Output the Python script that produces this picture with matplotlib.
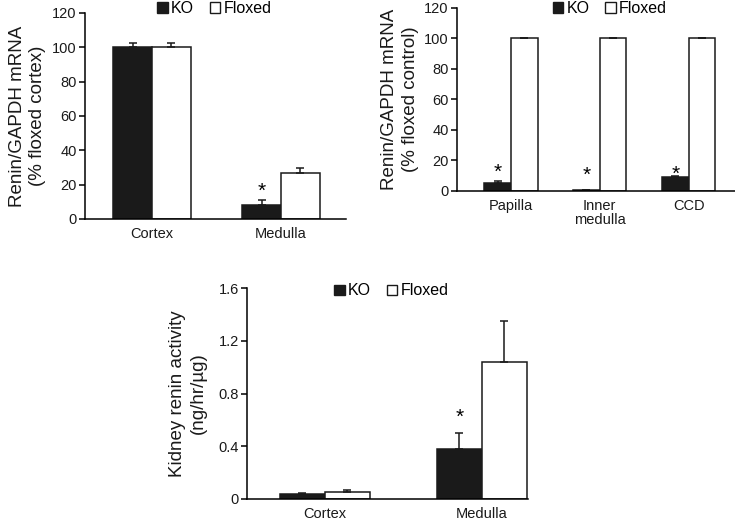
import matplotlib
matplotlib.use('Agg')
import matplotlib.pyplot as plt
from matplotlib.patches import Patch
import numpy as np

plt.rcParams['font.family'] = ['Liberation Sans', 'DejaVu Sans']

# panel A: renin mRNA, cortex vs medulla
a_groups = ['Cortex', 'Medulla']
a_ko = [100, 8]
a_ko_err = [2.5, 3]
a_fl = [100, 27]
a_fl_err = [2.5, 2.5]

# panel B: renin mRNA in medullary segments
b_groups = ['Papilla', 'Inner\nmedulla', 'CCD']
b_ko = [5.5, 0.6, 9.5]
b_ko_err = [1.0, 0.3, 0.5]
b_fl = [100, 100, 100]
b_fl_err = [0.5, 0.2, 0.5]

# panel C: kidney renin activity
c_groups = ['Cortex', 'Medulla']
c_ko = [0.04, 0.38]
c_ko_err = [0.005, 0.12]
c_fl = [0.05, 1.04]
c_fl_err = [0.02, 0.31]

star_a = [(1, 16)]
star_b = [(0, 12.5), (1, 10.5), (2, 11)]
star_c = [(1, 0.62)]

fig = plt.figure(figsize=(7.35, 5.23), dpi=100)
axA = fig.add_axes([0.1156, 0.5813, 0.355, 0.394])
axB = fig.add_axes([0.6218, 0.6348, 0.378, 0.35])
axC = fig.add_axes([0.336, 0.0459, 0.382, 0.4034])


def draw(ax, groups, ko, ko_err, fl, fl_err, w, xlim, ylim, yticks, yticklabels,
         ylabel, stars, leg_xy, lpad):
    x = np.arange(len(groups))
    ax.bar(x - w / 2, ko, w, color='#1a1a1a', edgecolor='#1a1a1a', linewidth=1.1)
    ax.bar(x + w / 2, fl, w, color='white', edgecolor='#1a1a1a', linewidth=1.1)
    ax.errorbar(x - w / 2, ko, yerr=[np.zeros(len(ko)), ko_err], fmt='none',
                ecolor='#1a1a1a', elinewidth=1.1, capsize=3, capthick=1.1)
    ax.errorbar(x + w / 2, fl, yerr=[np.zeros(len(fl)), fl_err], fmt='none',
                ecolor='#1a1a1a', elinewidth=1.1, capsize=3, capthick=1.1)
    for i, v in stars:
        ax.text(i - w / 2, v, '*', ha='center', va='center', fontsize=15)
    ax.set_xlim(xlim)
    ax.set_ylim(ylim)
    ax.set_yticks(yticks)
    ax.set_yticklabels(yticklabels, fontsize=10.5, color='#1a1a1a')
    ax.set_xticks(x)
    ax.set_xticklabels(groups, fontsize=10.5, color='#1a1a1a', linespacing=1.0)
    ax.tick_params(axis='x', length=0, pad=6)
    ax.tick_params(axis='y', length=4, width=1.1, direction='out', pad=2)
    ax.spines['top'].set_visible(False)
    ax.spines['right'].set_visible(False)
    ax.spines['left'].set_linewidth(1.1)
    ax.spines['bottom'].set_linewidth(1.1)
    ax.set_ylabel(ylabel, fontsize=13.5, color='#1a1a1a', linespacing=1.3,
                  labelpad=lpad)
    handles = [Patch(facecolor='#1a1a1a', edgecolor='#1a1a1a', label='KO'),
               Patch(facecolor='white', edgecolor='#1a1a1a', label='Floxed')]
    ax.legend(handles=handles, loc='center', bbox_to_anchor=leg_xy, ncol=2,
              frameon=False, fontsize=11.5, handlelength=0.65, handleheight=0.65,
              handletextpad=0.2, columnspacing=1.0, borderpad=0)


draw(axA, a_groups, a_ko, a_ko_err, a_fl, a_fl_err, 0.30, (-0.519, 1.504),
     (0, 120), [0, 20, 40, 60, 80, 100, 120], ['0', '20', '40', '60', '80', '100', '120'],
     'Renin/GAPDH mRNA\n(% floxed cortex)', star_a, (0.496, 1.02), 4)
draw(axB, b_groups, b_ko, b_ko_err, b_fl, b_fl_err, 0.30, (-0.607, 2.52),
     (0, 120), [0, 20, 40, 60, 80, 100, 120], ['0', '20', '40', '60', '80', '100', '120'],
     'Renin/GAPDH mRNA\n(% floxed control)', star_b, (0.55, 0.995), 4)
draw(axC, c_groups, c_ko, c_ko_err, c_fl, c_fl_err, 0.287, (-0.497, 1.293),
     (0, 1.6), [0, 0.4, 0.8, 1.2, 1.6], ['0', '0.4', '0.8', '1.2', '1.6'],
     'Kidney renin activity\n(ng/hr/\u00b5g)', star_c, (0.515, 0.986), 8)

fig.savefig('out.png', dpi=100)
